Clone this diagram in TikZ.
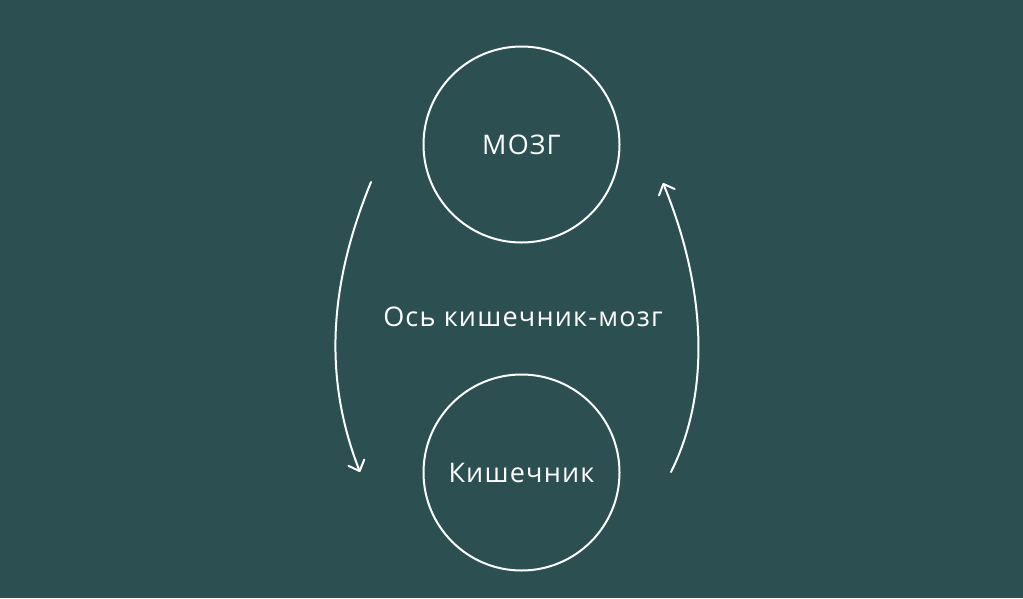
\documentclass[tikz,border=0pt]{standalone}
\usepackage{fontspec}
\setmainfont[LetterSpace=4.5]{Open Sans}
\usetikzlibrary{arrows.meta}
\definecolor{bg}{HTML}{2C5052}
\tikzset{
  organ/.style={circle, draw=white, line width=2pt, minimum size=196pt, inner sep=0pt, text=white, font=\fontsize{27}{32}\selectfont},
  lbl/.style={text=white, font=\fontsize{27}{32}\selectfont},
  flow/.style={draw=white, line width=2pt, line cap=round, -{Straight Barb[length=9pt,width=17pt,line width=2pt,round]}}
}
\begin{document}
\begin{tikzpicture}[x=1pt,y=-1pt]
\fill[bg] (0,0) rectangle (1023,598);
\useasboundingbox (0,0) rectangle (1023,598);
\node[organ] (brain) at (521.5,144.5) {МОЗГ};
\node[organ] (gut) at (521.5,472.5) {Кишечник};
\node[lbl] (axis) at (523,317) {Ось кишечник-мозг};
\coordinate (l1) at (371,182);
\coordinate (l2) at (360,472);
\coordinate (r1) at (671,472);
\coordinate (r2) at (663,183);
\draw[flow] (l1) .. controls (333,275) and (320,370) .. (l2);
\draw[flow] (r1) .. controls (712,390) and (705,285) .. (r2);
\end{tikzpicture}
\end{document}
